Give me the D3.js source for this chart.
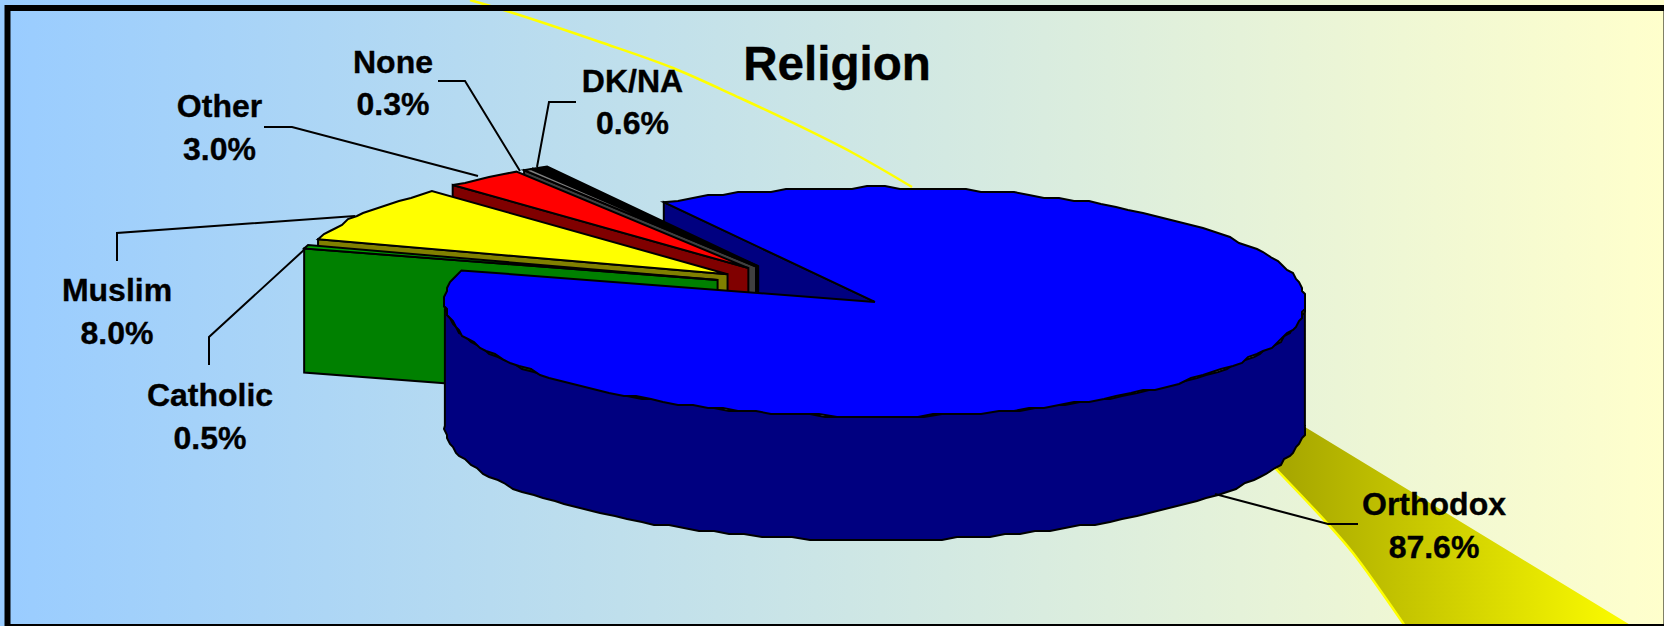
<!DOCTYPE html>
<html>
<head>
<meta charset="utf-8">
<script src="https://cdnjs.cloudflare.com/ajax/libs/d3/7.8.5/d3.min.js"></script>
<style>
html,body{margin:0;padding:0;overflow:hidden;background:#fff}
svg{display:block}
text{font-family:"Liberation Sans",Arial,sans-serif;font-weight:bold;fill:#000;stroke:#000;stroke-width:.35px;text-anchor:middle}
</style>
</head>
<body>
<div id="chart"></div>
<script>
const title = "Religion";
const categories = ["Orthodox", "Catholic", "Muslim", "Other", "None", "DK/NA"];
const values = [87.6, 0.5, 8.0, 3.0, 0.3, 0.6];
const valueLabels = ["87.6%", "0.5%", "8.0%", "3.0%", "0.3%", "0.6%"];
const topColors = ["#0000ff", "#00a000", "#ffff00", "#ff0000", "#808080", "#000000"];
const sideColors = ["#000080", "#008000", "#808000", "#800000", "#404040", "#000000"];

const W = 1664, H = 626;
const rx = 430, ry = 114.5, depth = 124;
const origin = {x: 804, y: 287};
const explode = 0.21;
const rad = d => d * Math.PI / 180;

// label placement: text centre, two baselines, leader tip, elbow, and slice end
const layout = {
  "Orthodox": {x: 1434, y: [515, 558], tip: [1358, 524], elbow: [1328, 524], end: [1215, 494]},
  "Catholic": {x: 210,  y: [406, 449], tip: [209, 365],  elbow: [209, 337],  end: [305, 249]},
  "Muslim":   {x: 117,  y: [301, 344], tip: [117, 261],  elbow: [117, 233],  end: [355, 216]},
  "Other":    {x: 219.5,y: [117, 160], tip: [264, 127],  elbow: [292, 127],  end: [478, 176]},
  "None":     {x: 393,  y: [73, 115],  tip: [438, 81],   elbow: [465, 81],   end: [520, 171]},
  "DK/NA":    {x: 632.5,y: [92, 134],  tip: [576, 102],  elbow: [549, 102],  end: [537, 167]}
};

const svg = d3.select("#chart").append("svg").attr("width", W).attr("height", H);
const defs = svg.append("defs");
const bg = defs.append("linearGradient").attr("id", "bg");
bg.append("stop").attr("offset", 0).attr("stop-color", "#99ccff");
bg.append("stop").attr("offset", 1).attr("stop-color", "#ffffcc");
const beam = defs.append("linearGradient").attr("id", "beam")
  .attr("gradientUnits", "userSpaceOnUse").attr("x1", 1290).attr("x2", 1640).attr("y1", 0).attr("y2", 0);
beam.append("stop").attr("offset", 0).attr("stop-color", "#a8a800");
beam.append("stop").attr("offset", 1).attr("stop-color", "#ffff00");

svg.append("rect").attr("width", W).attr("height", H).attr("fill", "url(#bg)");

// sweep behind the pie
const sweepUpper = [[470,0],[510,12],[600,42],[673,68],[740,98],[787,120],[853,153],[912,187]];
const sweepLower = [[1275,468],[1327,523],[1353,553],[1405,626]];
const smooth = d3.line().curve(d3.curveCatmullRom);
svg.append("path")
  .attr("d", "M1305,427 L1632,626 L1405,626 " + smooth(sweepLower.slice().reverse()).replace(/^M/, "L") + "Z")
  .attr("fill", "url(#beam)");
[sweepUpper, sweepLower].forEach(s => svg.append("path").attr("d", smooth(s))
  .attr("fill", "none").attr("stroke", "#ffff00").attr("stroke-width", 2.5));

const color = d3.scaleOrdinal(categories, topColors);
const side = d3.scaleOrdinal(categories, sideColors);
const sx = d3.scaleLinear().domain([-1, 1]).range([-rx, rx]);
const sy = d3.scaleLinear().domain([-1, 1]).range([ry, -ry]);

const startDeg = -29.4;
const pie = d3.pie().value(d => d.v).sort(null).startAngle(rad(startDeg)).endAngle(rad(startDeg + 360));
const arcs = pie(categories.map((c, i) => ({c, v: values[i]})));

arcs.forEach(a => {
  const mid = (a.startAngle + a.endAngle) / 2;
  a.cx = origin.x + sx(Math.sin(mid)) * explode;
  a.cy = origin.y + sy(Math.cos(mid)) * explode;
});
const pt = (a, t, dz = 0) => [a.cx + sx(Math.sin(t)), a.cy + sy(Math.cos(t)) + dz];
const snap = p => [Math.round(p[0] / 3) * 3, Math.round(p[1] / 3) * 3];
const rim = (a, t0, t1, dz = 0) => {
  const n = Math.max(1, Math.ceil(Math.abs(t1 - t0) / rad(2.2)));
  return d3.range(n + 1).map(i => {
    const p = pt(a, t0 + (t1 - t0) * i / n, dz);
    return (i === 0 || i === n) ? p : snap(p);
  });
};
const poly = d3.line();
const drawPoly = (points, fill) => svg.append("path")
  .attr("d", poly(points) + "Z").attr("fill", fill)
  .attr("stroke", "#000").attr("stroke-width", 2).attr("stroke-linejoin", "miter");

const cutFace = a => {
  const o = [a.cx, a.cy], e = pt(a, a.startAngle);
  return [e, o, [o[0], o[1] + depth], [e[0], e[1] + depth]];
};

const main = arcs[0];
// hidden-side face of the large slice, behind the small ones
drawPoly(cutFace(main), side(main.data.c));

// small slices painted back to front
arcs.slice(1).reverse().forEach(a => {
  drawPoly(cutFace(a), side(a.data.c));
  drawPoly([[a.cx, a.cy], ...rim(a, a.startAngle, a.endAngle)], color(a.data.c));
});

// large slice: front wall then top
const front0 = rad(90), front1 = rad(270);
drawPoly([...rim(main, front0, front1), ...rim(main, front1, front0, depth)], side(main.data.c));
drawPoly([[main.cx, main.cy], ...rim(main, main.startAngle, main.endAngle)], color(main.data.c));

// leaders
categories.forEach(c => {
  const l = layout[c];
  svg.append("path").attr("d", poly([l.tip, l.elbow, l.end])).attr("fill", "none")
    .attr("stroke", "#000").attr("stroke-width", 2);
});

// labels
categories.forEach((c, i) => {
  const l = layout[c];
  svg.append("text").attr("x", l.x).attr("y", l.y[0]).attr("font-size", 32).text(c);
  svg.append("text").attr("x", l.x).attr("y", l.y[1]).attr("font-size", 32).text(valueLabels[i]);
});
svg.append("text").attr("x", 837).attr("y", 80).attr("font-size", 47.6).text(title);

// frame
svg.append("rect").attr("x", 7.5).attr("y", 8).attr("width", 1659).attr("height", 619)
  .attr("fill", "none").attr("stroke", "#000").attr("stroke-width", 6);
</script>
</body>
</html>
